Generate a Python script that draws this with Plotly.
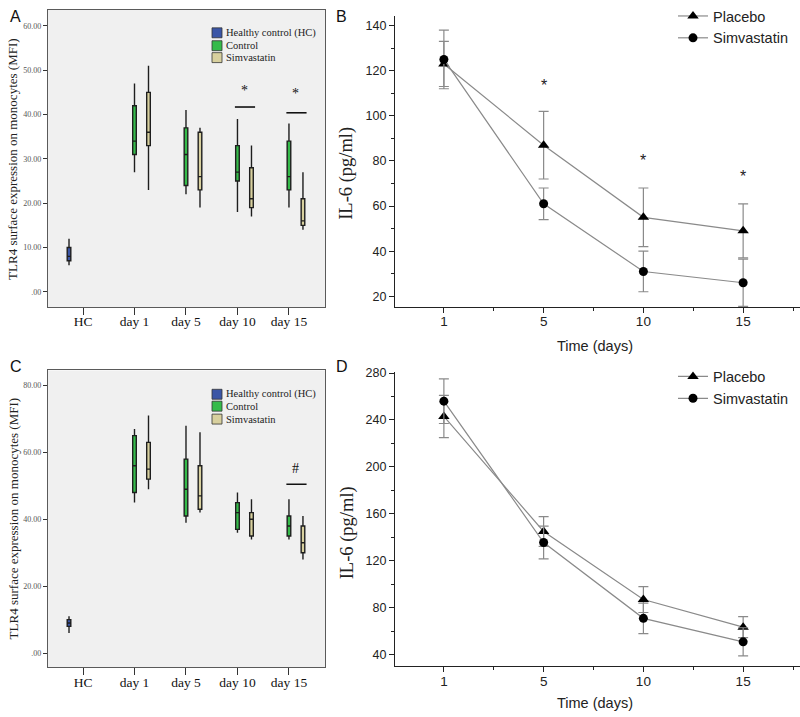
import plotly.graph_objects as go

# ---------------- data ----------------
box_categories = ["HC", "day 1", "day 5", "day 10", "day 15"]
groups = ["Healthy control (HC)", "Control", "Simvastatin"]

# Panel A (TLR4, MFI) -- HC single box, then day1..day15
A_hc = dict(lower=[6], q1=[7], median=[8], q3=[10], upper=[12])
A_ctrl = dict(lower=[27, 22, 18, 19], q1=[31, 24, 25, 23], median=[34, 31, 27, 26],
              q3=[42, 37, 33, 34], upper=[47, 41, 39, 38])
A_simva = dict(lower=[23, 19, 17, 14], q1=[33, 23, 19, 15], median=[36, 26, 21, 16],
               q3=[45, 36, 28, 21], upper=[51, 37, 33, 27])
A_yticks = [0, 10, 20, 30, 40, 50, 60]
A_yticktext = [".00", "10.00", "20.00", "30.00", "40.00", "50.00", "60.00"]
A_sig_days = [3, 4]          # category index
A_sig_line_y = [41.7, 40.4]
A_sig_mark_y = [45.8, 45.1]
A_sig_text = ["*", "*"]

# Panel C
C_hc = dict(lower=[6], q1=[8], median=[9], q3=[10], upper=[11])
C_ctrl = dict(lower=[45, 39, 36, 34], q1=[48, 41, 37, 35], median=[56, 49, 42, 38],
              q3=[65, 58, 45, 41], upper=[67, 68, 48, 46])
C_simva = dict(lower=[49, 42, 34, 28], q1=[52, 43, 35, 30], median=[55, 47, 40, 33],
               q3=[63, 56, 42, 38], upper=[71, 66, 46, 41])
C_yticks = [0, 20, 40, 60, 80]
C_yticktext = [".00", "20.00", "40.00", "60.00", "80.00"]
C_sig_days = [4]
C_sig_line_y = [50.5]
C_sig_mark_y = [55.9]
C_sig_text = ["#"]

# Panels B and D (IL-6)
days = ["1", "5", "10", "15"]
B_placebo = [123, 87, 55, 49]
B_placebo_err = [10, 15, 13, 12]
B_simva = [125, 61, 31, 26]
B_simva_err = [13, 7, 9, 10.5]
B_star_days = [1, 2, 3]
B_star_y = [115.4, 81.9, 75.0]

D_placebo = [243, 145, 87, 63.5]
D_placebo_err = [18, 12.7, 11, 9]
D_simva = [256, 135.6, 71, 51]
D_simva_err = [19, 14, 13, 12]

# ---------------- style ----------------
W, H = 800, 717
COL_HC = "#3a55a6"
COL_CTRL = "#35bb4a"
COL_SIM = "#d8d09e"
BOX_BG = "#f0f0f0"
SERIF = "Liberation Serif, Times New Roman, serif"
SANS = "Liberation Sans, Arial, sans-serif"
OFFSET = 0.272
BOXW = 0.07
box_colors = [COL_HC, COL_CTRL, COL_SIM]


def px_x(a, b):
    return [a / W, b / W]


def px_y(top, bottom):
    return [1 - bottom / H, 1 - top / H]


def pxx(x):
    return x / W


def pxy(y):
    return 1 - y / H


fig = go.Figure()


def add_boxes(hc, ctrl, simva, xa, ya):
    for name, st, col, pos in [
        (groups[0], hc, COL_HC, [0 - OFFSET]),
        (groups[1], ctrl, COL_CTRL, [i for i in range(1, 5)]),
        (groups[2], simva, COL_SIM, [i + OFFSET for i in range(1, 5)]),
    ]:
        fig.add_trace(go.Box(
            x=pos, q1=st["q1"], median=st["median"], q3=st["q3"],
            lowerfence=st["lower"], upperfence=st["upper"],
            name=name, fillcolor=col, line=dict(color="#1e1e1e", width=1.4),
            width=BOXW, whiskerwidth=0, boxpoints=False,
            xaxis=xa, yaxis=ya, showlegend=False,
        ))


add_boxes(A_hc, A_ctrl, A_simva, "x", "y")
add_boxes(C_hc, C_ctrl, C_simva, "x3", "y3")


def add_lines(pl, pl_e, si, si_e, xa, ya, legend):
    xs = list(range(len(days)))
    fig.add_trace(go.Scatter(
        x=xs, y=pl, mode="lines+markers", name="Placebo",
        line=dict(color="#8a8a8a", width=1.2),
        marker=dict(symbol="triangle-up", size=10, color="black"),
        error_y=dict(type="data", array=pl_e, visible=True, color="#8a8a8a", thickness=1.2, width=5),
        xaxis=xa, yaxis=ya, legend=legend,
    ))
    fig.add_trace(go.Scatter(
        x=xs, y=si, mode="lines+markers", name="Simvastatin",
        line=dict(color="#8a8a8a", width=1.2),
        marker=dict(symbol="circle", size=9, color="black"),
        error_y=dict(type="data", array=si_e, visible=True, color="#8a8a8a", thickness=1.2, width=5),
        xaxis=xa, yaxis=ya, legend=legend,
    ))


add_lines(B_placebo, B_placebo_err, B_simva, B_simva_err, "x2", "y2", "legend")
add_lines(D_placebo, D_placebo_err, D_simva, D_simva_err, "x4", "y4", "legend2")

# ---------------- axes ----------------
box_x = dict(range=[-0.68, 4.70], tickvals=list(range(5)), ticktext=box_categories,
             showline=True, mirror=True, linecolor="#5a5a5a", linewidth=1.2,
             ticks="outside", ticklen=7, tickcolor="#333", showgrid=False, zeroline=False,
             ticklabelstandoff=-5,
             tickfont=dict(family=SERIF, size=13.5, color="#111"))
box_y = dict(showline=True, mirror=True, linecolor="#5a5a5a", linewidth=1.2,
             ticks="outside", ticklen=4, tickcolor="#333", showgrid=False, zeroline=False,
             tickfont=dict(family=SERIF, size=8, color="#555"))

line_x = dict(range=[-0.49, 3.57], tickvals=list(range(4)), ticktext=days,
              showline=True, linecolor="#222", linewidth=1.2, ticks="outside", ticklen=5,
              tickcolor="#222", showgrid=False, zeroline=False, ticklabelstandoff=-3,
              minor=dict(ticks="outside", ticklen=3, dtick=0.5, tick0=0, tickcolor="#222"),
              tickfont=dict(family=SANS, size=13.5, color="#222"))
line_y = dict(showline=True, linecolor="#222", linewidth=1.2, ticks="outside", ticklen=5,
              tickcolor="#222", showgrid=False, zeroline=False,
              tickfont=dict(family=SANS, size=12.5, color="#222"))

fig.update_layout(
    width=W, height=H, margin=dict(l=0, r=0, t=0, b=0),
    paper_bgcolor="white", plot_bgcolor="white",
    xaxis=dict(box_x, domain=px_x(48, 325), anchor="y"),
    yaxis=dict(box_y, domain=px_y(5, 304), anchor="x", range=[-3.4, 63.6],
               tickvals=A_yticks, ticktext=A_yticktext),
    xaxis3=dict(box_x, domain=px_x(48, 325), anchor="y3"),
    yaxis3=dict(box_y, domain=px_y(368, 667), anchor="x3", range=[-4.25, 84.5],
                tickvals=C_yticks, ticktext=C_yticktext),
    xaxis2=dict(line_x, domain=px_x(395, 800), anchor="y2"),
    yaxis2=dict(line_y, domain=px_y(11, 304), anchor="x2", range=[15.3, 144.3], dtick=20,
                minor=dict(ticks="outside", ticklen=3, dtick=10, tickcolor="#222")),
    xaxis4=dict(line_x, domain=px_x(395, 800), anchor="y4"),
    yaxis4=dict(line_y, domain=px_y(370, 666), anchor="x4", range=[30.1, 280.5], dtick=40,
                tick0=40, minor=dict(ticks="outside", ticklen=3, dtick=20, tickcolor="#222")),
    legend=dict(x=673 / W, y=pxy(-5), xanchor="left", yanchor="top", bgcolor="rgba(0,0,0,0)",
                font=dict(family=SANS, size=14.5, color="#222")),
    legend2=dict(x=673 / W, y=pxy(358), xanchor="left", yanchor="top", bgcolor="rgba(0,0,0,0)",
                 font=dict(family=SANS, size=14.5, color="#222")),
)

# grey background of the box-plot panels
for xa, ya in [("x", "y"), ("x3", "y3")]:
    fig.add_shape(type="rect", xref=f"{xa} domain", yref=f"{ya} domain", x0=0, x1=1, y0=0, y1=1,
                  fillcolor=BOX_BG, line=dict(width=0), layer="below")

# legends of the box plots (SPSS style)
for rows in [[28, 41, 53], [392, 404, 417]]:
    for name, col, yc in zip(groups, box_colors, rows):
        fig.add_shape(type="rect", xref="paper", yref="paper",
                      x0=pxx(212), x1=pxx(222), y0=pxy(yc + 5), y1=pxy(yc - 5),
                      fillcolor=col, line=dict(color="#333", width=0.8))
        fig.add_annotation(x=pxx(224), y=pxy(yc), xref="paper", yref="paper", text=name,
                           showarrow=False, xanchor="left", yanchor="middle",
                           font=dict(family=SERIF, size=10.5, color="#222"))

# axis titles
for t, x, y, fam, sz in [("TLR4 surface expression on monocytes (MFI)", 13, 155, SERIF, 13),
                         ("TLR4 surface expression on monocytes (MFI)", 13, 517, SERIF, 13),
                         ("IL-6 (pg/ml)", 347, 170, SERIF, 18.5),
                         ("IL-6 (pg/ml)", 347, 532, SERIF, 18.5)]:
    fig.add_annotation(x=pxx(x), y=pxy(y), xref="paper", yref="paper", text=t, showarrow=False,
                       textangle=-90, xanchor="center", yanchor="middle",
                       font=dict(family=fam, size=sz, color="#222"))
for y in [343, 703]:
    fig.add_annotation(x=pxx(595), y=pxy(y), xref="paper", yref="paper", text="Time (days)",
                       showarrow=False, xanchor="center", yanchor="middle",
                       font=dict(family=SANS, size=14.5, color="#222"))

# significance marks on box plots
for xa, ya, dd, ly, my, tx in [("x", "y", A_sig_days, A_sig_line_y, A_sig_mark_y, A_sig_text),
                               ("x3", "y3", C_sig_days, C_sig_line_y, C_sig_mark_y, C_sig_text)]:
    for d, l_y, m_y, t in zip(dd, ly, my, tx):
        fig.add_shape(type="line", xref=xa, yref=ya, x0=d - 0.05, x1=d + OFFSET + 0.07,
                      y0=l_y, y1=l_y, line=dict(color="#111", width=1.6))
        fig.add_annotation(x=d + OFFSET / 2, y=m_y, xref=xa, yref=ya, text=t, showarrow=False,
                           font=dict(family=SERIF, size=14, color="#111"), yshift=-2)

for d, y in zip(B_star_days, B_star_y):
    fig.add_annotation(x=d, y=y, xref="x2", yref="y2", text="*", showarrow=False,
                       font=dict(family=SANS, size=16, color="#222"), yshift=-4)

# panel letters
for t, x, y in [("A", 8, 12), ("B", 334, 12), ("C", 8, 364), ("D", 334, 364)]:
    fig.add_annotation(x=pxx(x), y=pxy(y), xref="paper", yref="paper", text=t, showarrow=False,
                       xanchor="left", yanchor="middle", font=dict(family=SANS, size=16, color="#111"))

fig.write_html("out.html", config={"displayModeBar": False},
               post_script="document.body.style.margin='0px';")
